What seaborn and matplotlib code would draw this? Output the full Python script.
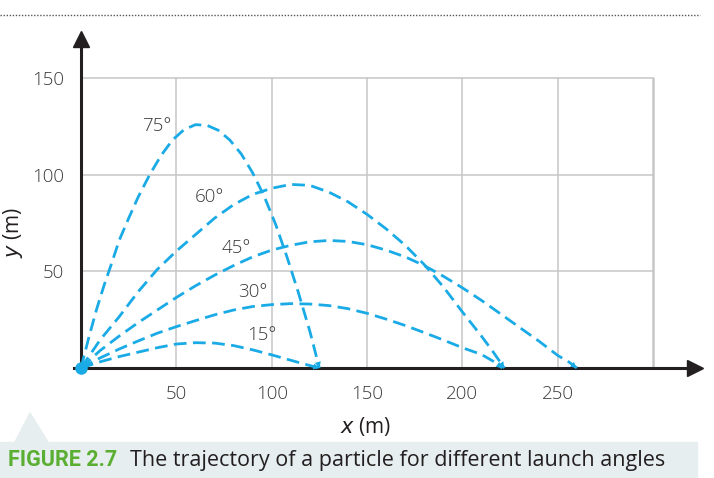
import numpy as np
import pandas as pd
import matplotlib.pyplot as plt
import seaborn as sns
from matplotlib.patches import Rectangle, Polygon
from matplotlib.lines import Line2D

# trajectories (x, y in metres)
ang_labels = ["75°", "60°", "45°", "30°", "15°"]
x75 = [0, 4, 8, 12, 16, 20, 25, 30, 36, 42, 48, 54, 60, 66, 72, 78, 84, 90, 96, 102, 108, 114, 120, 125]
y75 = [0, 15.4, 29.8, 42.5, 54, 66, 77.5, 88.5, 100, 110, 118, 123.3, 125.9, 125.6, 123, 118, 110.8, 101, 89, 74.5, 57.5, 39, 19, 0]
x60 = [0, 10, 20, 30, 40, 50, 60, 70, 80, 90, 100, 110, 120, 130, 140, 150, 160, 170, 180, 190, 200, 210, 216, 222]
y60 = [0, 14.5, 26.5, 39.5, 51, 60.5, 69, 77.5, 84.5, 89.8, 93, 95, 94.5, 91, 86, 79.5, 72, 63.5, 53.5, 42, 29, 16.5, 8.5, 0]
x45 = [0, 10, 20, 30, 40, 50, 60, 70, 80, 90, 100, 110, 120, 130, 140, 150, 160, 170, 180, 190, 200, 210, 220, 230, 240, 250, 256, 260]
y45 = [0, 9, 16.5, 23.5, 30, 36.5, 42.5, 48, 53, 57.5, 61, 63.5, 65.3, 66, 65.5, 63.8, 61, 57.5, 53, 47.5, 41.5, 35, 28, 21, 14, 6.5, 3, 0]
x30 = [0, 10, 20, 30, 40, 50, 60, 70, 80, 90, 100, 110, 120, 130, 140, 150, 160, 170, 180, 190, 200, 210, 216, 221]
y30 = [0, 5.2, 9.8, 14, 18, 21.4, 24.5, 27.5, 30, 31.8, 32.8, 33.3, 33.1, 32.3, 30.7, 28.3, 25.3, 22, 18.3, 14.5, 10.5, 7, 3.6, 0]
x15 = [0, 10, 20, 30, 40, 50, 60, 70, 80, 90, 100, 110, 118, 125]
y15 = [0, 3.2, 5.9, 8.2, 10.5, 12.4, 13.1, 12.9, 11.6, 9.4, 6.8, 4, 1.8, 0]
# label anchor points
lab_x = [39.6, 67.5, 81.5, 90.2, 94.6]
lab_y = [125, 88.6, 61.9, 39.2, 17]
xticks = [50, 100, 150, 200, 250]
yticks = [50, 100, 150]

blue = "#1aabe6"
ink = "#231f20"
grid = "#c6c6c6"
txt = "#3a3a3a"

sns.set_style("white")
plt.rcParams["font.family"] = ["Open Sans", "DejaVu Sans"]

xs = [x75, x60, x45, x30, x15]
ys = [y75, y60, y45, y30, y15]
df = pd.concat([pd.DataFrame({"x": a, "y": b, "angle": l})
                for a, b, l in zip(xs, ys, ang_labels)])

fig = plt.figure(figsize=(7.14, 4.78), dpi=100)
ax = fig.add_axes([70/714, 103/478, 630/714, 345/478])
ax.set_xlim(-5.77, 324.6)
ax.set_ylim(-3.62, 174.9)

# grid limited to the 0..300 x 0..150 box
for v in xticks:
    ax.plot([v, v], [0, 150], color=grid, lw=1.1, zorder=0)
ax.plot([300, 300], [0, 150], color=grid, lw=1.8, zorder=0)
for v in yticks:
    ax.plot([0, 300], [v, v], color=grid, lw=1.1, zorder=0)
n_grid = len(ax.lines)

sns.lineplot(data=df, x="x", y="y", units="angle", estimator=None, sort=False,
             color=blue, lw=2.0, ax=ax, zorder=3)
for ln in ax.lines[n_grid:]:
    ln.set_dashes([4.6, 2.3])

for a, b in zip(xs, ys):
    ax.annotate("", xy=(a[-1], b[-1]), xytext=(a[-2], b[-2]),
                arrowprops=dict(arrowstyle="-|>", color=blue, lw=0,
                                mutation_scale=11, shrinkA=0, shrinkB=0), zorder=4)
ax.plot([0], [0], "o", ms=8, color=blue, clip_on=False, zorder=5)

for l, a, b in zip(ang_labels, lab_x, lab_y):
    ax.text(a, b, l, fontsize=13.5, color=txt, ha="center", va="center",
            fontweight="light")

# axes through the origin with arrows
for s in ["top", "right"]:
    ax.spines[s].set_visible(False)
ax.spines["bottom"].set_position(("data", 0))
ax.spines["left"].set_position(("data", 0))
ax.spines["bottom"].set_bounds(-3.7, 318)
ax.spines["left"].set_bounds(-2, 168)
for s in ["bottom", "left"]:
    ax.spines[s].set_color(ink)
    ax.spines[s].set_linewidth(2.2)
ax.plot(322, 0, ">", ms=11, color=ink, clip_on=False, zorder=6)
ax.plot(0, 170, "^", ms=11, color=ink, clip_on=False, zorder=6)

ax.set_xticks([0] + xticks + [300])
ax.set_xticklabels([""] + [str(t) for t in xticks] + [""])
ax.set_yticks(yticks)
ax.set_yticklabels([str(t) for t in yticks])
ax.tick_params(axis="both", direction="out", length=6, width=1.4, color=ink,
               labelsize=13.5, labelcolor=txt, pad=6)
ax.set_xlabel("")
ax.set_ylabel("")
for lb in ax.get_xticklabels() + ax.get_yticklabels():
    lb.set_fontweight("light")

fig.text(366/714, 1 - 426/478, r"$\it{x}$ (m)", fontsize=15, color=ink,
         ha="center", va="center")
fig.text(13/714, 1 - 232/478, r"$\it{y}$ (m)", fontsize=15, color=ink,
         ha="center", va="center", rotation=90)

# dotted rule at top
fig.add_artist(Line2D([0, 700/714], [1 - 15/478, 1 - 15/478], color="#555555",
                      lw=1, ls=(0, (1, 1.2))))
# caption band
band = "#e6eeef"
fig.patches.append(Rectangle((0, 0), 697/714, 36/478, transform=fig.transFigure,
                             color=band, zorder=0))
fig.patches.append(Polygon([(15/714, 36/478), (30/714, 65/478), (48/714, 36/478)],
                           closed=True, transform=fig.transFigure, color=band, zorder=0))
fig.text(8/714, 12/478, "FIGURE 2.7", fontsize=15.5, fontweight="bold", color="#5aaf32",
         family=["Liberation Sans Narrow", "Roboto", "DejaVu Sans"], va="baseline")
fig.text(130/714, 12/478, "The trajectory of a particle for different launch angles",
         fontsize=15.5, color=ink, va="baseline")

fig.savefig("out.png", dpi=100)
